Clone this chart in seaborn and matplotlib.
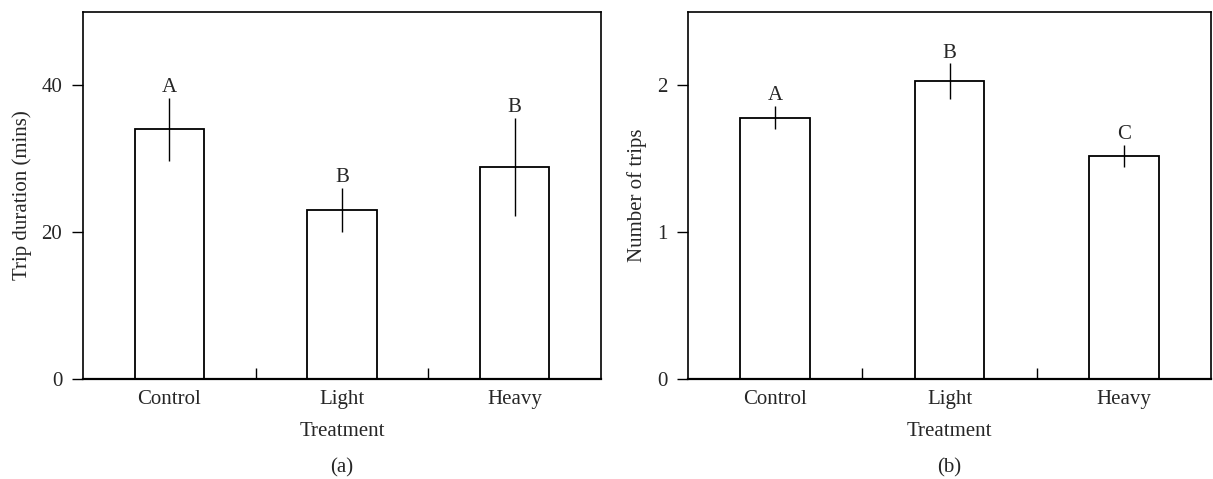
import matplotlib
matplotlib.use("Agg")
import matplotlib.pyplot as plt
import seaborn as sns
import pandas as pd
from matplotlib.ticker import FixedLocator

# Treatment groups and per-group summaries
treatments = ["Control", "Light", "Heavy"]

trip_duration = [34.0, 23.0, 28.9]
trip_duration_err = [4.3, 3.0, 6.7]
trip_duration_letters = ["A", "B", "B"]

trip_count = [1.78, 2.03, 1.52]
trip_count_err = [0.08, 0.12, 0.075]
trip_count_letters = ["A", "B", "C"]

FS = 15

sns.set_theme(style="white")
plt.rcParams["font.family"] = ["Liberation Serif", "DejaVu Serif"]
plt.rcParams["font.size"] = FS

fig = plt.figure(figsize=(12.13, 4.79), dpi=100)
ax_a = fig.add_axes([83 / 1213, 100 / 479, 518 / 1213, 367 / 479])
ax_b = fig.add_axes([688 / 1213, 100 / 479, 523 / 1213, 367 / 479])


def draw_panel(ax, values, errors, letters, ylabel, ymax, yticks, tag):
    df = pd.DataFrame({"Treatment": treatments, "value": values})
    sns.barplot(data=df, x="Treatment", y="value", order=treatments,
                color="white", edgecolor="black", linewidth=1.3,
                width=0.4, errorbar=None, ax=ax)
    ax.errorbar(range(len(values)), values, yerr=errors, fmt="none",
                ecolor="black", elinewidth=1.0, capsize=0)
    # significance letters just above each error bar
    for i, (v, e, lab) in enumerate(zip(values, errors, letters)):
        ax.annotate(lab, (i, v + e), xytext=(0, 0.5), textcoords="offset points",
                    ha="center", va="bottom", fontsize=FS)
    ax.set_xlim(-0.5, 2.5)
    ax.set_ylim(0, ymax)
    ax.set_yticks(yticks)
    ax.set_yticklabels([str(t) for t in yticks])
    ax.set_ylabel(ylabel, fontsize=FS, labelpad=7)
    ax.set_xlabel("Treatment", fontsize=FS, labelpad=9)
    ax.xaxis.set_minor_locator(FixedLocator([0.5, 1.5]))
    ax.tick_params(axis="x", which="major", length=0, pad=8, labelsize=FS)
    ax.tick_params(axis="x", which="minor", direction="in", length=8,
                   width=1.0, color="black", bottom=True)
    ax.tick_params(axis="y", which="major", direction="out", length=8,
                   width=1.0, color="black", left=True, pad=7, labelsize=FS)
    for sp in ax.spines.values():
        sp.set_visible(True)
        sp.set_color("black")
        sp.set_linewidth(1.2)
    ax.spines["bottom"].set_linewidth(1.6)
    bbox = ax.get_position()
    fig.text(bbox.x0 + bbox.width / 2, 11 / 479, tag, ha="center",
             va="center", fontsize=FS)


draw_panel(ax_a, trip_duration, trip_duration_err, trip_duration_letters,
           "Trip duration (mins)", 50, [0, 20, 40], "(a)")
draw_panel(ax_b, trip_count, trip_count_err, trip_count_letters,
           "Number of trips", 2.5, [0, 1, 2], "(b)")

fig.savefig("out.png", dpi=100, facecolor="white")
